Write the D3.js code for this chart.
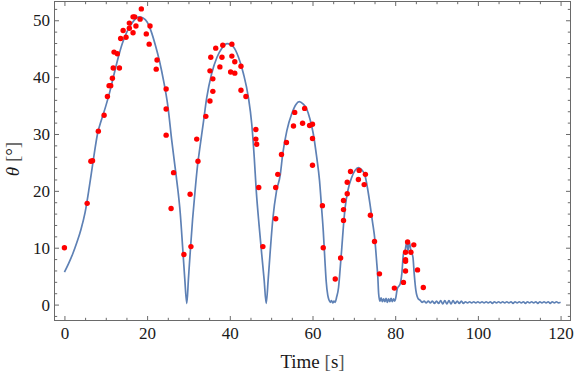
<html>
<head>
<meta charset="utf-8">
<script src="https://d3js.org/d3.v7.min.js"></script>
<style>
    body { margin: 0; background: #fff; }
    svg text { font-family: "Liberation Serif", "DejaVu Serif", serif; fill: #1a1a1a; }
</style>
</head>
<body>
<svg id="chart" width="576" height="380"></svg>
<script>
// measured angle (red dots), [time s, theta deg]
var measured = [
    [0,10.0],[5.5,17.8],[6.4,25.2],[6.8,25.3],[8.2,30.5],[9.6,33.3],[10.4,36.6],[10.8,38.5],[11.2,38.5],
    [11.6,39.8],[11.8,41.6],[12.0,44.4],[12.8,44.1],[13.3,41.6],[13.6,46.8],[14.2,48.2],[14.9,47.0],
    [15.7,48.6],[15.7,49.5],[16.6,50.6],[17.0,50.6],[16.6,47.8],[17.3,49.0],[18.3,50.2],[18.6,52.0],
    [19.8,47.6],[20.5,45.8],[20.7,49.0],[22.2,41.4],[22.4,43.0],[24.6,37.9],[24.6,34.4],[24.6,29.8],
    [25.8,16.9],[26.4,23.2],[28.9,8.8],[30.4,19.4],[30.6,10.2],
    [32.0,29.1],[32.3,25.2],[34.2,33.1],[35.2,35.8],[35.9,37.5],[35.9,39.7],[35.2,41.1],[35.4,43.5],
    [36.6,45.1],[37.6,41.8],[38.1,43.5],[38.3,45.6],[40.5,45.8],[40.5,43.7],[40.2,40.9],[41.2,42.7],
    [41.2,40.7],[42.7,41.9],[42.7,37.7],[43.9,36.6],[46.3,30.8],[46.3,29.1],[46.5,28.2],[47.0,20.6],[48.0,10.2],
    [51.1,15.1],[51.1,20.6],[51.6,22.9],[52.5,26.4],[53.7,28.5],[55.4,31.4],[55.7,33.8],[57.6,31.9],
    [58.1,34.5],[59.3,31.5],[60.0,31.7],[60.0,29.2],[60.0,24.5],[62.4,17.4],[62.6,10.0],
    [65.5,4.5],[66.8,8.2],[67.5,14.8],[67.5,16.7],[67.5,18.3],[68.4,19.5],[68.4,21.5],[69.2,23.4],
    [71.1,22.0],[71.3,23.6],[72.5,21.1],[72.8,22.9],[74.0,15.7],[75.0,11.1],[76.2,5.4],
    [79.8,2.9],[82.0,3.9],[82.5,5.9],[82.5,7.6],[82.5,7.9],[82.5,9.2],[83.0,11.0],[83.8,9.2],
    [84.5,10.5],[85.4,6.1],[86.8,3.0]
];

// simulated angle (blue line), [time s, theta deg]
var simulated = [
    [0,5.7],[1,7.2],[2,8.9],[3,10.9],[4,13.2],[5,16.2],[6,20.6],[7,25.5],[8,30.0],[9,32.6],[10,34.9],
    [11,37.5],[12,40.5],[13,43.4],[14,45.9],[15,47.8],[16,49.1],[17,50.1],[18,50.6],[19,50.4],[20,49.7],
    [21,48.0],[22,45.6],[23,42.8],[24,39.3],[25,35.0],[26,28.6],[27,22.8],[27.5,19.8],[28,16.2],
    [28.6,10.0],[29.1,4.6],[29.6,0.2],[30.0,4.6],[30.5,10.0],[31.0,15.0],[31.6,20.0],[32.2,24.5],
    [32.8,27.8],[33.6,32.0],[34.4,36.3],[35.6,40.6],[36.9,43.5],[38.0,45.0],[39.4,45.9],[40.9,45.3],
    [42.1,43.5],[43.3,40.6],[44.5,36.4],[45.3,31.8],[45.9,26.0],[46.4,20.0],[47.1,13.8],[47.7,9.0],
    [48.3,4.4],[48.8,0.2],[49.3,4.6],[49.8,9.6],[50.4,15.0],[51.3,20.0],[52.2,22.8],[52.8,26.5],
    [53.8,30.6],[55.0,33.6],[56.0,35.2],[56.8,35.7],[57.7,35.3],[58.6,34.4],[59.4,32.6],[60.2,30.0],
    [61.0,26.0],[61.7,21.8],[62.2,17.0],[62.6,13.0],[63.0,7.8],[63.3,4.2],[63.7,1.6],[64.0,0.8],
    [64.3,0.4],[64.6,0.7],[64.9,0.3],[65.2,0.6],[65.5,0.4],[65.8,1.2],[66.3,3.0],[66.7,6.4],[67.1,10.1],
    [67.5,14.0],[67.9,17.1],[68.6,20.2],[69.5,22.4],[70.3,23.6],[71.1,24.1],[71.9,23.7],[72.7,22.7],
    [73.3,20.5],[73.9,17.7],[74.5,14.6],[75.1,11.3],[75.5,7.7],[75.8,4.8],[76.0,1.9],[76.3,0.6],
    [76.6,1.2],[76.9,0.5],[77.2,1.0],[77.5,0.5],[77.8,1.1],[78.1,0.4],[78.4,1.0],[78.7,0.5],[79.0,1.1],
    [79.3,0.5],[79.6,1.0],[79.9,0.6],[80.2,1.4],[80.5,2.8],[81.2,3.6],[81.6,5.4],[82.0,8.9],[82.4,9.5],
    [82.8,11.0],[83.1,9.5],[83.4,11.0],[83.8,9.5],[84.3,8.3],[84.6,5.4],[85.0,2.5],[85.6,1.0],[86.0,0.8],
    [86.5,0.4],[87,0.6],[87.5,0.3],[88,0.6],[88.5,0.3],[89,0.6],[89.5,0.2],[90,0.6],[90.5,0.2],[91,0.7],
    [91.5,0.1],[92,0.7],[92.5,0.1],[93,0.7],[93.5,0.1],[94,0.7],[94.5,0.2],[95,0.6],[95.5,0.2],[96,0.6],
    [96.5,0.2],[97,0.5],[97.5,0.3],[98,0.5],[98.5,0.3],[99,0.5],[99.5,0.3],[100,0.5],[100.5,0.3],
    [101,0.5],[101.5,0.3],[102,0.5],[102.5,0.3],[103,0.5],[103.5,0.2],[104,0.5],[104.5,0.3],[105,0.5],
    [105.5,0.3],[106,0.5],[106.5,0.3],[107,0.5],[107.5,0.3],[108,0.5],[108.5,0.2],[109,0.5],[109.5,0.3],
    [110,0.5],[110.5,0.3],[111,0.5],[111.5,0.2],[112,0.5],[112.5,0.3],[113,0.5],[113.5,0.3],[114,0.5],
    [114.5,0.2],[115,0.5],[115.5,0.3],[116,0.5],[116.5,0.3],[117,0.5],[117.5,0.2],[118,0.5],[118.5,0.3],
    [119,0.5],[119.5,0.3],[120,0.4]
];

var xMajor = [0, 20, 40, 60, 80, 100, 120];
var xMinor = [5, 10, 15, 25, 30, 35, 45, 50, 55, 65, 70, 75, 85, 90, 95, 105, 110, 115];
var yMajor = [0, 10, 20, 30, 40, 50];
var yMinor = [-2, 2, 4, 6, 8, 12, 14, 16, 18, 22, 24, 26, 28, 32, 34, 36, 38, 42, 44, 46, 48, 52];

var pLeft = 54.5, pRight = 570.5, pTop = 1.5, pBottom = 320.5;
var frameColor = "#6a6a6a";

var svg = d3.select("#chart");

var xs = d3.scaleLinear().domain([-2.4, 122.4]).range([pLeft, pRight]);
var ys = d3.scaleLinear().domain([-2.8, 53.3]).range([pBottom, pTop]);

// frame
svg.append("rect")
    .attr("x", pLeft).attr("y", pTop)
    .attr("width", pRight - pLeft).attr("height", pBottom - pTop)
    .attr("fill", "none").attr("stroke", frameColor).attr("stroke-width", 1);

function frameAxis(axis, tx, ty, vals, size, labels) {
    var g = svg.append("g")
        .attr("transform", "translate(" + tx + "," + ty + ")")
        .call(axis.tickValues(vals).tickSizeInner(-size).tickSizeOuter(0)
            .tickFormat(labels ? d3.format("d") : ""));
    g.select(".domain").remove();
    g.selectAll(".tick line").attr("stroke", frameColor);
    g.selectAll(".tick text").attr("font-size", 17).attr("fill", "#1a1a1a")
        .attr("font-family", "Liberation Serif, serif");
    return g;
}

// bottom / top
frameAxis(d3.axisBottom(xs).tickPadding(6), 0, pBottom, xMajor, 4.5, true);
frameAxis(d3.axisBottom(xs), 0, pBottom, xMinor, 2.7, false);
frameAxis(d3.axisTop(xs), 0, pTop, xMajor, 4.5, false);
frameAxis(d3.axisTop(xs), 0, pTop, xMinor, 2.7, false);
// left / right
frameAxis(d3.axisLeft(ys).tickPadding(4.5), pLeft, 0, yMajor, 4.5, true);
frameAxis(d3.axisLeft(ys), pLeft, 0, yMinor, 2.7, false);
frameAxis(d3.axisRight(ys), pRight, 0, yMajor, 4.5, false);
frameAxis(d3.axisRight(ys), pRight, 0, yMinor, 2.7, false);

// simulated curve
var line = d3.line()
    .x(function (d) { return xs(d[0]); })
    .y(function (d) { return ys(d[1]); })
    .curve(d3.curveMonotoneX);

svg.append("path")
    .datum(simulated)
    .attr("d", line)
    .attr("fill", "none")
    .attr("stroke", "#5e81b5")
    .attr("stroke-width", 1.7)
    .attr("stroke-linejoin", "round");

// measured points
svg.append("g").selectAll("circle")
    .data(measured).enter().append("circle")
    .attr("cx", function (d) { return xs(d[0]); })
    .attr("cy", function (d) { return ys(d[1]); })
    .attr("r", 2.7)
    .attr("fill", "#ff0000");

// axis labels
var xl = svg.append("text")
    .attr("x", (pLeft + pRight) / 2).attr("y", 368)
    .attr("text-anchor", "middle").attr("font-size", 19);
xl.append("tspan").text("Time ");
xl.append("tspan").attr("fill", "#555").text("[");
xl.append("tspan").text("s");
xl.append("tspan").attr("fill", "#555").text("]");

var yl = svg.append("text")
    .attr("transform", "translate(19,159) rotate(-90)")
    .attr("text-anchor", "middle").attr("font-size", 19);
yl.append("tspan").attr("font-style", "italic").text("θ");
yl.append("tspan").text(" ");
yl.append("tspan").attr("fill", "#555").text("[");
yl.append("tspan").text("°");
yl.append("tspan").attr("fill", "#555").text("]");
</script>
</body>
</html>
